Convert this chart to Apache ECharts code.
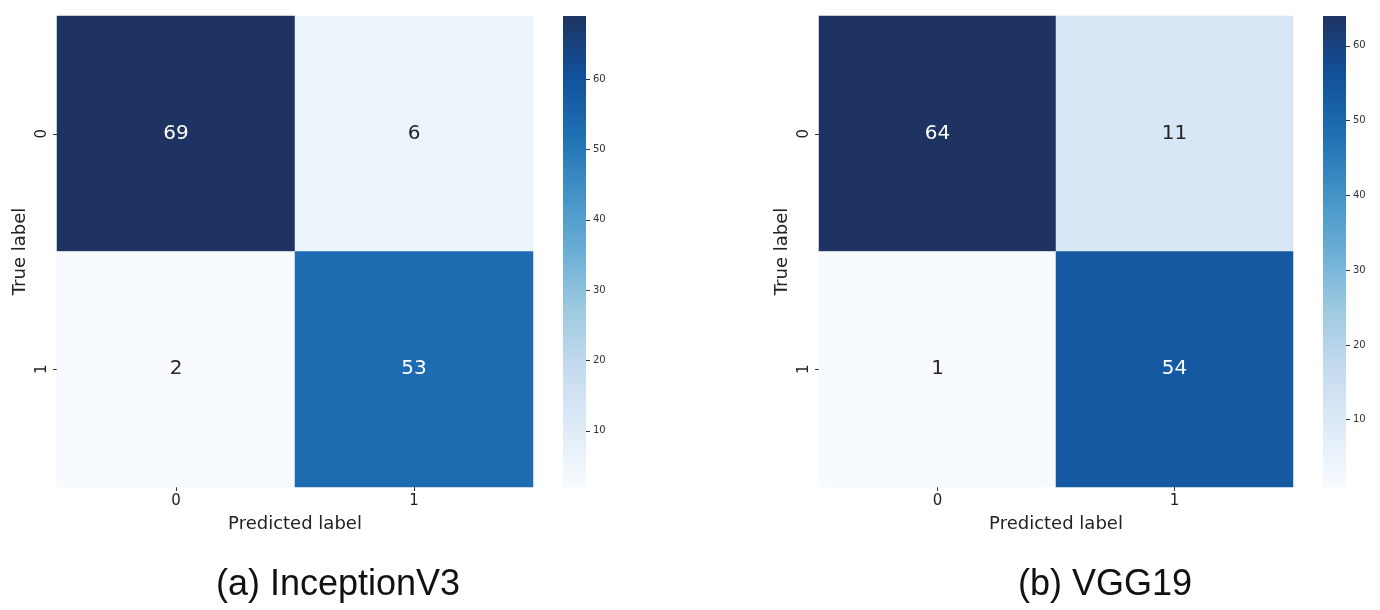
<!DOCTYPE html>
<html><head><meta charset="utf-8">
<script src="https://cdn.jsdelivr.net/npm/echarts@6/dist/echarts.min.js"></script>
<style>html,body{margin:0;padding:0;background:#fff}#c{width:1380px;height:610px}</style>
</head><body><div id="c"></div>
<script>
const predictedLabels = ['0', '1'];
const trueLabels = ['0', '1'];
// rows = true label, cols = predicted label
const inceptionMatrix = [[69, 6], [2, 53]];
const vggMatrix = [[64, 11], [1, 54]];
const colorbarTicks = [10, 20, 30, 40, 50, 60];
const captions = ['(a) InceptionV3', '(b) VGG19'];
const xAxisTitle = 'Predicted label';
const yAxisTitle = 'True label';

const blues = ['#f7fbff','#deebf7','#c6dbef','#9ecae1','#6baed6','#4292c6','#1f6eb3','#11519c','#1e3362'];
const FONT = 'DejaVu Sans';

const panels = [
  {m: inceptionMatrix, gx: 57, gw: 476, cbx: 563, cap: 338},
  {m: vggMatrix, gx: 819, gw: 474, cbx: 1323, cap: 1105}
];
const GT = 16, GH = 471, CBW = 23;

const grid = [], xAxis = [], yAxis = [], series = [], visualMap = [], graphic = [];
panels.forEach((p, i) => {
  const flat = p.m.flat();
  const mn = Math.min(...flat), mx = Math.max(...flat);
  grid.push({left: p.gx, top: GT, width: p.gw, height: GH});
  xAxis.push({type: 'category', gridIndex: 2*i, data: predictedLabels,
    axisLine: {show: false}, splitLine: {show: false},
    axisTick: {show: true, alignWithLabel: true, length: 4, lineStyle: {color: '#333'}},
    axisLabel: {fontFamily: FONT, fontSize: 15, color: '#222', margin: 7},
    name: xAxisTitle, nameLocation: 'middle', nameGap: 28,
    nameTextStyle: {fontFamily: FONT, fontSize: 18, color: '#222'}});
  yAxis.push({type: 'category', gridIndex: 2*i, data: trueLabels, inverse: true,
    axisLine: {show: false}, splitLine: {show: false},
    axisTick: {show: true, alignWithLabel: true, length: 4, lineStyle: {color: '#333'}},
    axisLabel: {fontFamily: FONT, fontSize: 15, color: '#222', rotate: 90, margin: 7},
    name: yAxisTitle, nameLocation: 'middle', nameGap: 28, nameRotate: 90,
    nameTextStyle: {fontFamily: FONT, fontSize: 18, color: '#222'}});
  const data = [];
  p.m.forEach((row, r) => row.forEach((v, c) => {
    data.push({value: [c, r, v], label: {color: v > (mn + mx) / 2 ? '#ffffff' : '#262626'}});
  }));
  series.push({type: 'heatmap', xAxisIndex: 2*i, yAxisIndex: 2*i, data: data,
    label: {show: true, fontFamily: FONT, fontSize: 20},
    itemStyle: {borderWidth: 0}, emphasis: {disabled: true}});
  // colorbar axis
  grid.push({left: p.cbx, top: GT, width: CBW, height: GH});
  xAxis.push({type: 'value', gridIndex: 2*i+1, show: false, min: 0, max: 1});
  yAxis.push({type: 'value', gridIndex: 2*i+1, position: 'right', min: mn, max: mx,
    axisLine: {show: false, onZero: false}, splitLine: {show: false}, minorTick: {show: false},
    axisTick: {show: true, inside: false, length: 4, lineStyle: {color: '#333'}, customValues: colorbarTicks},
    axisLabel: {fontFamily: FONT, fontSize: 10, color: '#333', margin: 7, customValues: colorbarTicks}});
  visualMap.push({type: 'continuous', seriesIndex: i, min: mn, max: mx, show: false,
    inRange: {color: blues}});
  // colorbar gradient (same palette as the visualMap)
  graphic.push({type: 'rect', z: 100,
    shape: {x: p.cbx, y: GT, width: CBW, height: GH},
    style: {fill: new echarts.graphic.LinearGradient(0, 1, 0, 0,
      blues.map((c, k) => ({offset: k / (blues.length - 1), color: c})))}});
  graphic.push({type: 'text', x: p.cap, y: 585,
    style: {text: captions[i], font: '36px "Liberation Sans", Arial, sans-serif', fill: '#111',
      textAlign: 'center', textVerticalAlign: 'middle'}});
});

const chart = echarts.init(document.getElementById('c'), null, {renderer: 'canvas'});
chart.setOption({animation: false, grid, xAxis, yAxis, series, visualMap, graphic});
</script></body></html>
